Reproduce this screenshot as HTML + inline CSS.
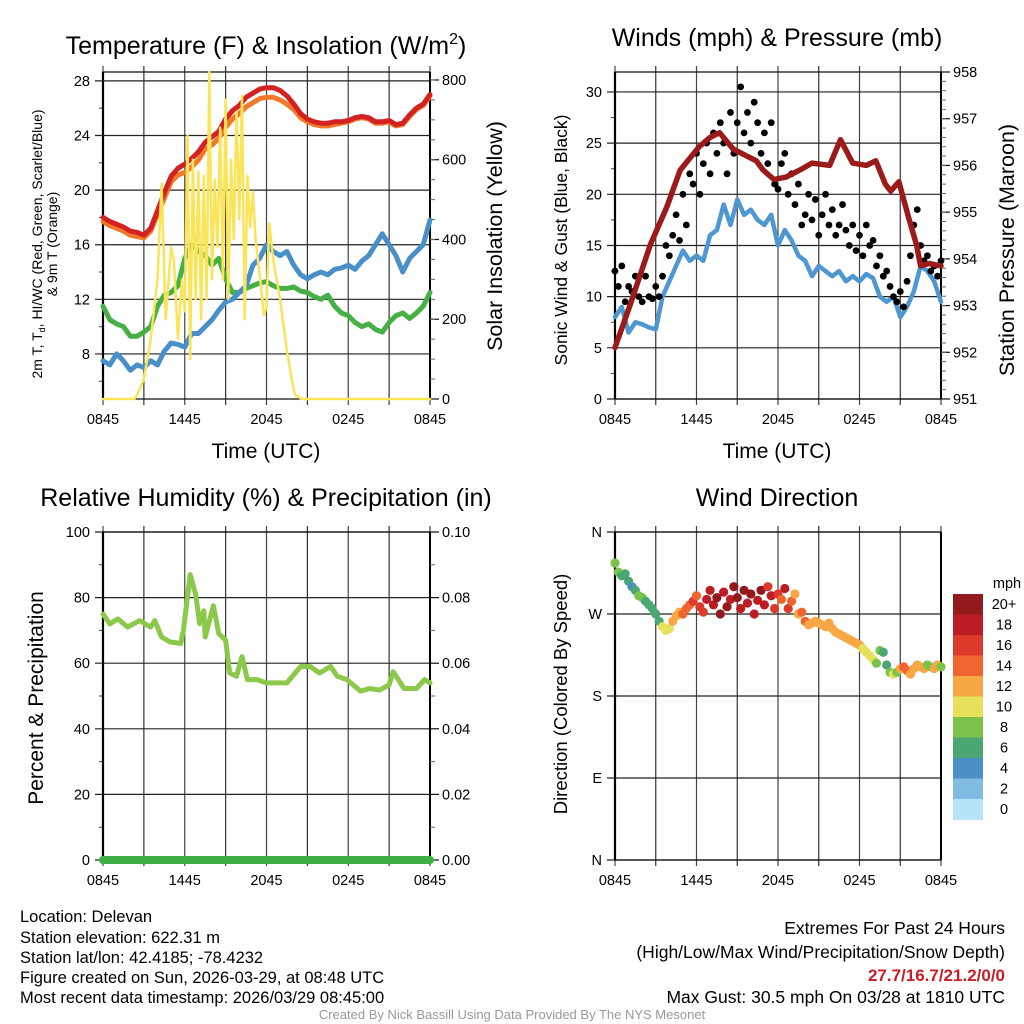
<!DOCTYPE html>
<html><head><meta charset="utf-8"><style>
html,body{margin:0;padding:0;background:#fff;}
svg{display:block;font-family:"Liberation Sans",Arial,sans-serif;}
</style></head><body>
<svg id="fig" width="1024" height="1024" viewBox="0 0 1024 1024">
<rect width="1024" height="1024" fill="#fff"/>
<g id="layer"></g>
<g font-size="25" text-anchor="middle">
<text x="266" y="54">Temperature (F) &amp; Insolation (W/m<tspan font-size="16" dy="-10">2</tspan><tspan dy="10">)</tspan></text>
<text x="777" y="46">Winds (mph) &amp; Pressure (mb)</text>
<text x="266" y="506">Relative Humidity (%) &amp; Precipitation (in)</text>
<text x="777" y="506">Wind Direction</text>
</g>
<g font-size="21" text-anchor="middle">
<text x="266" y="458">Time (UTC)</text>
<text x="777" y="458">Time (UTC)</text>
<text transform="translate(502,236) rotate(-90)" font-size="21.5">Solar Insolation (Yellow)</text>
<text transform="translate(1014,250) rotate(-90)" font-size="21.5">Station Pressure (Maroon)</text>
<text transform="translate(567,240) rotate(-90)" font-size="17.5">Sonic Wind &amp; Gust (Blue, Black)</text>
<text transform="translate(43,698) rotate(-90)" font-size="21">Percent &amp; Precipitation</text>
<text transform="translate(567,694) rotate(-90)" font-size="18.5">Direction (Colored By Speed)</text>
<text transform="translate(42,244) rotate(-90)" font-size="14">2m T, T<tspan font-size="9" dy="3">d</tspan><tspan dy="-3">, HI/WC (Red, Green, Scarlet/Blue)</tspan></text>
<text transform="translate(57,244) rotate(-90)" font-size="14">&amp; 9m T (Orange)</text>
</g>
<g font-size="16.5">
<text x="20" y="922">Location: Delevan</text>
<text x="20" y="943">Station elevation: 622.31 m</text>
<text x="20" y="963">Station lat/lon: 42.4185; -78.4232</text>
<text x="20" y="983">Figure created on Sun, 2026-03-29, at 08:48 UTC</text>
<text x="20" y="1003">Most recent data timestamp: 2026/03/29 08:45:00</text>
<g text-anchor="end" font-size="17.5">
<text x="1005" y="934">Extremes For Past 24 Hours</text>
<text x="1005" y="958">(High/Low/Max Wind/Precipitation/Snow Depth)</text>
<text x="1005" y="981" fill="#c81e28" font-weight="bold" font-size="17">27.7/16.7/21.2/0/0</text>
<text x="1005" y="1003">Max Gust: 30.5 mph On 03/28 at 1810 UTC</text>
</g>
<text x="512" y="1019" text-anchor="middle" font-size="13" fill="#999">Created By Nick Bassill Using Data Provided By The NYS Mesonet</text>
</g>
</svg>
<script>
// ---------- data ----------
const timeTicks = ["0845","1445","2045","0245","0845"];
const halfHours = [0,0.5,1,1.5,2,2.5,3,3.5,4,4.5,5,5.5,6,6.5,7,7.5,8,8.5,9,9.5,10,10.5,11,11.5,12,12.5,13,13.5,14,14.5,15,15.5,16,16.5,17,17.5,18,18.5,19,19.5,20,20.5,21,21.5,22,22.5,23,23.5,24];
const temp2m = [18,17.7,17.5,17.3,17,16.9,16.7,17.2,18.5,19.8,21,21.6,21.9,22.3,22.8,23.5,23.9,24.3,25.2,25.8,26.2,26.8,27.1,27.4,27.5,27.5,27.3,26.9,26.3,25.6,25.2,25,24.9,24.9,25,25,25.1,25.3,25.4,25.3,25,25,25.1,24.8,24.9,25.5,26,26.3,27];
const temp9m = [17.7,17.4,17.2,17,16.7,16.6,16.5,17,18.2,19.4,20.6,21.1,21.3,21.7,22.2,23,23.3,23.8,24.6,25.2,25.6,26.1,26.4,26.7,26.8,26.8,26.6,26.3,25.9,25.3,25,24.8,24.7,24.7,24.8,24.9,25,25.2,25.3,25.2,24.9,24.9,25,24.7,24.8,25.4,25.9,26.2,26.9];
const dewpoint = [11.5,10.5,10.2,10,9.3,9.3,9.6,10,11.5,12.3,12.5,13,15,16,15.5,15.2,14.5,15,13.5,12.5,12.5,12.8,13,13.2,13.3,13,12.8,12.8,12.9,12.6,12.5,12.2,12,12.3,11.5,11,10.8,10.3,10,10.2,9.8,9.6,10.3,10.8,11,10.6,11,11.5,12.5];
const windChill = [7.5,7.2,8,7.5,6.8,7.2,7,7.5,7.2,8.2,8.8,8.7,8.5,9.5,9.5,10,10.5,11.2,11.8,12,12.5,13,14.5,15,16,15.5,15.2,15.5,14.5,13.8,13.5,13.8,14,13.8,14.2,14.3,14.5,14.2,14.8,15.2,16,16.8,16,15.2,14,15,15.5,16,17.8];
const solarHours = [0,2.3,2.5,3,3.5,4,4.3,4.6,5,5.2,5.5,5.8,6,6.2,6.4,6.6,6.8,7,7.2,7.4,7.6,7.8,8,8.2,8.4,8.6,8.8,9,9.2,9.4,9.6,9.8,10,10.2,10.4,10.6,10.8,11,11.2,11.4,11.6,11.8,12,12.2,12.5,13,13.5,13.9,14.1,14.6,24];
const solar = [0,0,10,50,150,300,540,200,380,350,150,300,220,660,100,600,250,570,200,560,250,820,300,550,380,680,300,750,250,600,400,720,450,760,200,560,430,520,400,340,280,210,230,440,350,250,120,40,10,0,0];
const windHalfHour = [8,9,6.5,7.5,7.3,7,6.8,10,11.5,13,14.5,13.5,14,13.5,16,16.5,19,17,19.5,18,18.5,17.5,17,18,15,16.5,15.5,14,13.5,12,13,12.5,12,12.5,11.5,12,11.5,12.2,11.8,10,9.5,10,8,9,10.5,13,12.5,11.5,9.5];
const gust = [12.5,11,13,9.5, 11,10.5,12,10, 9.5,12,10,9.8, 11,10,12,15, 14,16,18,15.5, 20,17,22,21, 24,20,23,25, 22,26,24,27, 25,22,28,24, 27,30.5,26,28, 25,29,27,24, 26,23,27,21, 20.5,23,24,20, 22,19,21,17, 18,20,17.5,19.5, 16,18,20,17, 18.5,16,17,19, 16.5,15,17,14.5, 16,14,17,15, 15.5,13,14,12, 12.5,11,10,9.5, 10.5,9,11.5,14, 17,18.5,15,13.5, 14,12.5,13,12, 13.5];
const pressureHours = [0,1.1,2.6,3.8,4.8,6.2,7,7.7,8.7,9.7,10.4,10.9,11.7,12.6,13.6,14.5,15.8,16.6,17.5,18.5,19.2,19.9,20.3,20.9,21.6,22.2,22.5,23.1,24];
const pressure = [952.1,953,954.3,955.1,955.9,956.4,956.6,956.7,956.35,956.2,956.1,955.9,955.7,955.75,955.9,956.05,956,956.55,956.05,956,956.1,955.6,955.45,955.65,954.9,954.3,953.85,953.9,953.85];
const rhHours = [0,0.5,1.1,1.8,2.7,3.5,3.8,4.3,4.9,5.7,5.9,6.4,6.8,7.1,7.4,7.5,8.1,8.5,9,9.3,9.8,10.2,10.6,11.3,12,12.8,13.5,14.5,15.2,15.9,16.7,17.2,17.9,18.9,19.6,20.3,21,21.3,22.1,23,23.6,24];
const rh = [75,72,73.5,71,73,71,73,68,66.5,66,70,87,81,72,76,68,77.5,69,67,57,56,62,55,55,54,54,54,59,59,57,59,56,55,51.5,52.3,51.8,53.4,57.4,52.3,52.3,55,54];
const precip = [0,0];
const precipHours = [0,24];
const windDir = [326,316,312,314, 306,300,296,290, 288,284,280,276, 270,262,256,252, 254,262,268,272, 270,276,280,284, 290,278,272,286, 296,280,288,270, 294,278,286,300, 288,276,296,282, 292,270,285,296, 280,300,290,276, 292,286,298,276, 284,292,270,272, 262,258,260,262, 260,258,256,260, 254,250,248,246, 244,242,240,238, 236,232,228,224, 220,216,230,228, 214,206,204,206, 210,212,208,204, 210,214,212,210, 214,212,210,214, 212];
const windSpeed = [8,8,7,7, 6,5,7,8, 8,7,6,6, 6,7,10,10, 11,12,13,12, 14,15,14,16, 15,16,17,18, 19,18,20,21, 19,21,18,20, 21,19,20,18, 21,18,19,20, 18,17,19,16, 17,15,18,16, 14,12,13,14, 15,12,13,12, 12,13,12,12, 13,12,12,13, 12,12,13,12, 12,11,10,10, 10,9,8,7, 7,8,10,9, 12,15,14,12, 12,13,12,12, 9,8,12,12, 8];
const speedLabels = ["0","2","4","6","8","10","12","14","16","18","20+"];
const speedColors = ["#b5e3f7","#80bce4","#4a8fc5","#4aa672","#7cc24a","#e6e05a","#f7a845","#f0652f","#dd3a2b","#bc1c24","#931a1c"];
// ---------- helpers ----------
const NS="http://www.w3.org/2000/svg";
const layer=document.getElementById('layer');
function mk(tag,attrs,parent){const e=document.createElementNS(NS,tag);for(const k in attrs)e.setAttribute(k,attrs[k]);(parent||layer).appendChild(e);return e;}
function scale(d0,d1,r0,r1){return v=>r0+(v-d0)/(d1-d0)*(r1-r0);}
function quarter(i){return i*0.25;}
function linePath(xs,ys,sx,sy){return xs.map((t,i)=>(i?'L':'M')+sx(t).toFixed(1)+','+sy(ys[i]).toFixed(1)).join('');}

function panel(p){
  const g=mk('g',{});
  
  
  const sx=scale(0,24,p.x0,p.x1), sy=scale(p.ld[0],p.ld[1],p.y1,p.y0);
  for(let h=0;h<=24;h+=3){
    const x=sx(h);
    const l=mk('line',{x1:x,x2:x,y1:p.y0-6,y2:p.y1+6,stroke:h%6?'#333':'#444','stroke-width':1.2},g);
    
    
  }
  p.lt.forEach((v,i)=>{
    const y=sy(v);
    const l=mk('line',{x1:p.x0-8,x2:p.x1+(p.gridExt||0),y1:y,y2:y,stroke:'#222','stroke-width':1.2},g);
    
    
    const t=mk('text',{x:p.x0-13,y:y+5,'font-size':14.5,'text-anchor':'end'},g);
    t.textContent=p.ll[i];
    
    
  });
  (p.lm||[]).forEach(v=>{const y=sy(v);mk('line',{x1:p.x0-4,x2:p.x0,y1:y,y2:y,stroke:'#444'},g);});
  mk('line',{x1:p.x0,x2:p.x1,y1:p.y0,y2:p.y0,stroke:'#111','stroke-width':1.3},g);
  mk('line',{x1:p.x0,x2:p.x1,y1:p.y1,y2:p.y1,stroke:'#111','stroke-width':1.3},g);
  mk('line',{x1:p.x0,x2:p.x0,y1:p.y0,y2:p.y1,stroke:'#000','stroke-width':2.2},g);
  mk('line',{x1:p.x1,x2:p.x1,y1:p.y0,y2:p.y1,stroke:'#000','stroke-width':2},g);
  timeTicks.forEach((lab,i)=>{
    const t=mk('text',{x:sx(i*6),y:p.y1+25,'font-size':14.5,'text-anchor':'middle'},g);
    t.textContent=lab;
    
    
  });
  if(p.rd){
    const ry=scale(p.rd[0],p.rd[1],p.y1,p.y0);
    p.rt.forEach((v,i)=>{
      const y=ry(v);
      mk('line',{x1:p.x1,x2:p.x1+9,y1:y,y2:y,stroke:'#111','stroke-width':1.2},g);
      const t=mk('text',{x:p.x1+12,y:y+5,'font-size':14.5},g);
      t.textContent=p.rl[i];
      
      
    });
    (p.rm||[]).forEach(v=>{const y=ry(v);mk('line',{x1:p.x1,x2:p.x1+5,y1:y,y2:y,stroke:'#666'},g);});
    p.ry=ry;
  }
  p.sx=sx;p.sy=sy;p.g=g;return p;
}
function series(p,xs,ys,sy,color,w,name){
  const e=mk('path',{d:linePath(xs,ys,p.sx,sy),fill:'none',stroke:color,'stroke-width':w,'stroke-linejoin':'round','stroke-linecap':'round'},p.g);
  
  
  return e;
}
function range(a,b,s){const r=[];for(let v=a;v<=b+1e-9;v+=s)r.push(+v.toFixed(4));return r;}

// ---------- panel 1 ----------
const p1=panel({name:'temperature-panel',x0:103,x1:430,y0:72,y1:399,ld:[4.7,28.65],lt:[8,12,16,20,24,28],ll:["8","12","16","20","24","28"],lm:range(6,26,4),
  rd:[0,820],rt:[0,200,400,600,800],rl:["0","200","400","600","800"],rm:range(50,800,50)});
series(p1,halfHours,temp9m,p1.sy,'#f07a2a',5,'temperature-9m-line');
series(p1,halfHours,temp2m,p1.sy,'#d42222',5,'temperature-2m-line');
series(p1,halfHours,dewpoint,p1.sy,'#46b044',5,'dewpoint-line');
series(p1,halfHours,windChill,p1.sy,'#4a90c8',5,'wind-chill-line');
series(p1,solarHours,solar,p1.ry,'#f9e45a',2.5,'solar-insolation-line');

// ---------- panel 2 ----------
const p2=panel({name:'winds-panel',x0:615,x1:941,y0:72,y1:399,ld:[0,31.95],lt:[0,5,10,15,20,25,30],ll:["0","5","10","15","20","25","30"],lm:range(2.5,27.5,5),
  rd:[951,958],rt:[951,952,953,954,955,956,957,958],rl:["951","952","953","954","955","956","957","958"],rm:range(951.2,957.8,0.2)});
series(p2,halfHours,windHalfHour,p2.sy,'#4f97d0',4.5,'sonic-wind-line');
gust.forEach((v,i)=>{
  const c=mk('circle',{cx:p2.sx(quarter(i)),cy:p2.sy(v),r:3.4,fill:'#000'},p2.g);
  
  
});
series(p2,pressureHours,pressure,p2.ry,'#9b1b1b',5.5,'pressure-line');

// ---------- panel 3 ----------
const p3=panel({name:'humidity-panel',x0:103,x1:430,y0:532,y1:860,ld:[0,100],lt:[0,20,40,60,80,100],ll:["0","20","40","60","80","100"],lm:range(10,90,20),
  rd:[0,0.1],rt:[0,0.02,0.04,0.06,0.08,0.1],rl:["0.00","0.02","0.04","0.06","0.08","0.10"],rm:range(0.01,0.09,0.02)});
series(p3,rhHours,rh,p3.sy,'#8cc84a',5,'relative-humidity-line');
series(p3,precipHours,precip,p3.ry,'#3fae45',8,'precipitation-line');

// ---------- panel 4 ----------
const p4=panel({name:'wind-direction-panel',x0:615,x1:941,y0:532,y1:860,ld:[0,360],lt:[0,90,180,270,360],ll:["N","E","S","W","N"],lm:[]});
function speedColor(s){let i=Math.floor(s/2);if(i>10)i=10;if(i<0)i=0;return speedColors[i];}
windDir.forEach((d,i)=>{
  const c=mk('circle',{cx:p4.sx(quarter(i)),cy:p4.sy(d),r:4.6,fill:speedColor(windSpeed[i])},p4.g);
  
  
});
const lg=mk('g',{});


const lt=mk('text',{x:1007,y:588,'font-size':14.5,'text-anchor':'middle'},lg);
lt.textContent='mph';


const boxH=20.5, boxTop=594;
speedColors.forEach((c,i)=>{
  const k=10-i;
  const y=boxTop+i*boxH;
  const r=mk('rect',{x:953,y:y,width:30,height:boxH+0.3,fill:speedColors[k]},lg);
  
  
  const t=mk('text',{x:1004,y:y+15,'font-size':14.5,'text-anchor':'middle'},lg);
  t.textContent=speedLabels[k];
  
  
});
</script>
</body></html>
